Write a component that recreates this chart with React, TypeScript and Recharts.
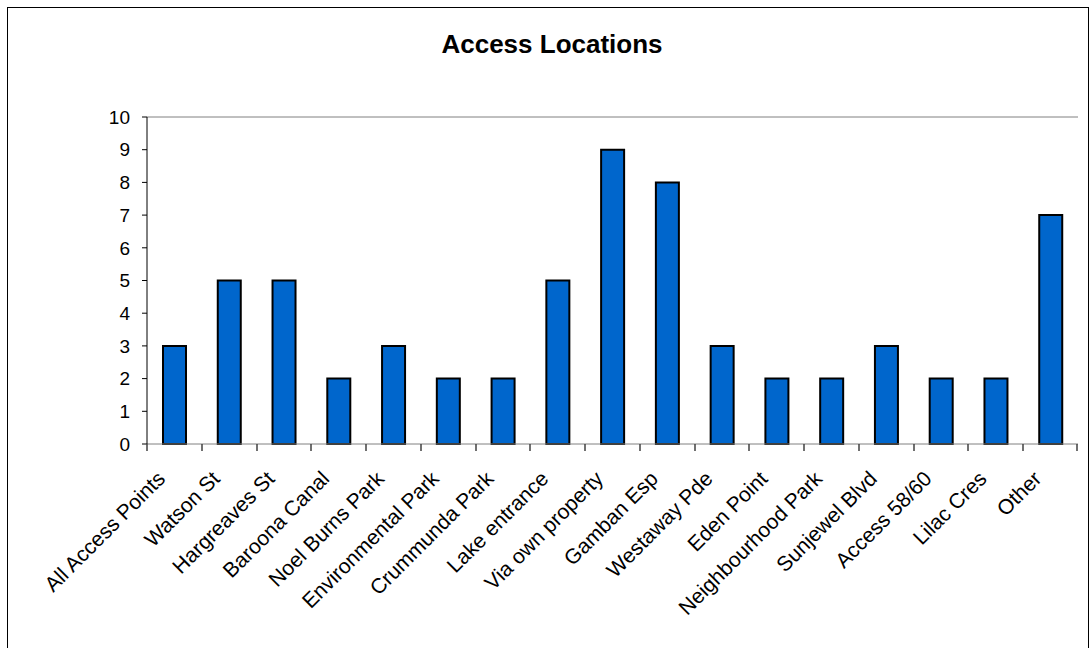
import { BarChart, Bar, XAxis, YAxis, ReferenceLine } from 'recharts'

const locations = [
  'All Access Points',
  'Watson St',
  'Hargreaves St',
  'Baroona Canal',
  'Noel Burns Park',
  'Environmental Park',
  'Crummunda Park',
  'Lake entrance',
  'Via own property',
  'Gamban Esp',
  'Westaway Pde',
  'Eden Point',
  'Neighbourhood Park',
  'Sunjewel Blvd',
  'Access 58/60',
  'Lilac Cres',
  'Other',
]
const counts = [3, 5, 5, 2, 3, 2, 2, 5, 9, 8, 3, 2, 2, 3, 2, 2, 7]
const yTicks = [0, 1, 2, 3, 4, 5, 6, 7, 8, 9, 10]

const rows = locations.map((name, i) => ({ name, count: counts[i] }))

const FONT = '"Liberation Sans", Arial, sans-serif'

// rotated category label + tick marks on the slot boundaries (Excel style)
function CategoryTick(props: any) {
  const { x, y, payload, index } = props
  const half = payload.offset || 0
  const axisY = y - 8
  const left = Math.round(x - half)
  const right = Math.round(x + half) - 1
  const ax = x - 8
  const ay = y + 28
  const isLast = index === locations.length - 1
  return (
    <g>
      <path d={`M${left},${axisY}v7`} stroke="#404040" strokeWidth={1.5} fill="none" />
      {isLast && <path d={`M${right},${axisY}v7`} stroke="#404040" strokeWidth={1.5} fill="none" />}
      <text
        x={ax}
        y={ay}
        transform={`rotate(-45, ${ax}, ${ay})`}
        textAnchor="end"
        fontSize={21}
        fontFamily={FONT}
        fill="#000"
      >
        {payload.value}
      </text>
    </g>
  )
}

export default function App() {
  return (
    <div style={{ position: 'absolute', left: 0, top: 0, width: 1090, height: 648, background: '#fff' }}>
      <div
        style={{
          position: 'absolute',
          left: 7,
          top: 7,
          width: 1082,
          height: 660,
          border: '1px solid #000',
          boxSizing: 'border-box',
        }}
      />
      <div
        style={{
          position: 'absolute',
          left: 0,
          top: 29,
          width: 1104,
          textAlign: 'center',
          fontFamily: FONT,
          fontWeight: 'bold',
          fontSize: 26,
          color: '#000',
        }}
      >
        Access Locations
      </div>
      <div style={{ position: 'absolute', left: 0, top: 0 }}>
        <BarChart
          width={1090}
          height={648}
          data={rows}
          margin={{ top: 117, right: 12, left: 0, bottom: 4 }}
          barCategoryGap={0}
        >
          <XAxis
            xAxisId="cat"
            dataKey="name"
            interval={0}
            height={200}
            tickLine={false}
            axisLine={{ stroke: '#808080' }}
            tick={<CategoryTick />}
          />
          <YAxis
            domain={[0, 10]}
            ticks={yTicks}
            interval={0}
            width={147}
            tickSize={5}
            tickMargin={12}
            tick={{ fontSize: 19, fontFamily: FONT, fill: '#000' }}
            tickLine={{ stroke: '#000' }}
            axisLine={{ stroke: '#000' }}
          />
          <YAxis
            yAxisId="right"
            orientation="right"
            domain={[0, 10]}
            width={0}
            tick={false}
            tickLine={false}
            axisLine={{ stroke: '#808080' }}
          />
          <ReferenceLine y={10} xAxisId="cat" stroke="#808080" />
          <Bar
            dataKey="count"
            xAxisId="cat"
            fill="#0066cc"
            stroke="#000"
            strokeWidth={2}
            barSize={23}
            isAnimationActive={false}
          />
        </BarChart>
      </div>
    </div>
  )
}
